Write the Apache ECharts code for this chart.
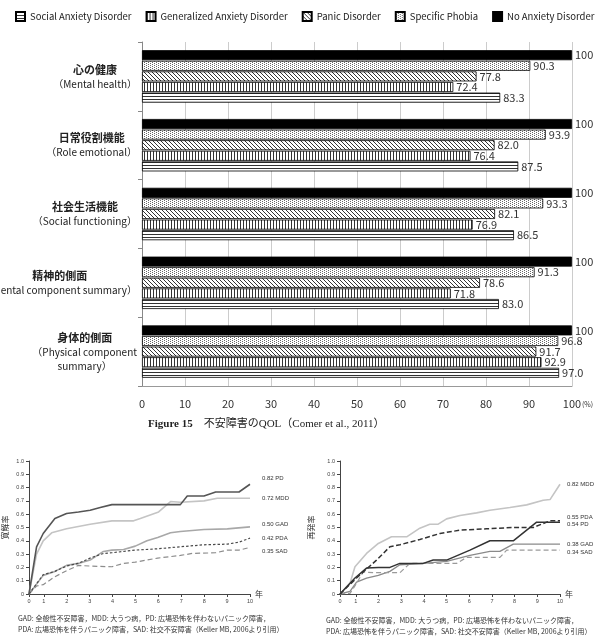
<!DOCTYPE html>
<html>
<head>
<meta charset="utf-8">
<script src="https://cdn.jsdelivr.net/npm/echarts@6/dist/echarts.min.js"></script>
<style>
  html, body { margin: 0; background: #fff; }
  #main { width: 596px; height: 638px; }
</style>
</head>
<body>
<div id="main"></div>
<script>
// ---- QOL bar chart (Figure 15) ----
const qolCategories = [
  ["心の健康", "（Mental health）"],
  ["日常役割機能", "（Role emotional）"],
  ["社会生活機能", "（Social functioning）"],
  ["精神的側面", "（Mental component summary）"],
  ["身体的側面", "（Physical component", "summary）"],
];
const barNames = ["Social Anxiety Disorder", "Generalized Anxiety Disorder", "Panic Disorder", "Specific Phobia", "No Anxiety Disorder"];
const socialAnxiety = [83.3, 87.5, 86.5, 83.0, 97.0];
const generalizedAnxiety = [72.4, 76.4, 76.9, 71.8, 92.9];
const panicDisorder = [77.8, 82.0, 82.1, 78.6, 91.7];
const specificPhobia = [90.3, 93.9, 93.3, 91.3, 96.8];
const noAnxiety = [100, 100, 100, 100, 100];
const qolTicks = [0, 10, 20, 30, 40, 50, 60, 70, 80, 90, 100];

// ---- remission (left) / recurrence (right) ----
const yearTicks = [1, 2, 3, 4, 5, 6, 7, 8, 9, 10];
const remXMin = 0.35;
const recXMin = 0.3;
const remPD = [[0.35, 0], [0.68, 0.355], [0.97, 0.455], [1.48, 0.567], [1.99, 0.605], [2.51, 0.617], [3.02, 0.63], [3.46, 0.65], [3.97, 0.672], [6.96, 0.672], [7.26, 0.737], [7.99, 0.737], [8.5, 0.767], [9.52, 0.767], [10, 0.825]];
const remMDD = [[0.35, 0], [0.68, 0.3], [0.97, 0.4], [1.34, 0.46], [1.99, 0.49], [3.02, 0.525], [3.97, 0.55], [4.92, 0.55], [5.21, 0.567], [6.01, 0.617], [6.53, 0.695], [6.96, 0.69], [7.99, 0.7], [8.57, 0.72], [10, 0.72]];
const remGAD = [[0.35, 0], [0.97, 0.14], [1.48, 0.17], [1.99, 0.215], [2.5, 0.23], [3.02, 0.255], [3.6, 0.32], [3.97, 0.33], [4.48, 0.335], [4.99, 0.36], [5.5, 0.4], [5.97, 0.425], [6.53, 0.46], [6.96, 0.47], [7.99, 0.485], [9.01, 0.49], [10, 0.505]];
const remPDA = [[0.35, 0], [0.97, 0.145], [1.48, 0.17], [1.99, 0.21], [2.5, 0.23], [3.02, 0.27], [3.6, 0.305], [3.97, 0.31], [4.99, 0.33], [5.97, 0.34], [6.96, 0.355], [7.99, 0.37], [9.01, 0.375], [9.52, 0.39], [10, 0.42]];
const remSAD = [[0.35, 0], [0.68, 0.06], [0.97, 0.07], [1.48, 0.13], [1.99, 0.175], [2.5, 0.215], [3.02, 0.21], [3.97, 0.205], [4.48, 0.23], [4.99, 0.24], [5.97, 0.27], [6.96, 0.29], [7.48, 0.305], [8.5, 0.31], [9.01, 0.33], [9.52, 0.33], [10, 0.35]];
const remLabels = ["0.82 PD", "0.72 MDD", "0.50 GAD", "0.42 PDA", "0.35 SAD"];

const recMDD = [[0.3, 0], [0.74, 0.08], [0.96, 0.205], [1.47, 0.305], [1.99, 0.38], [2.57, 0.43], [3.24, 0.43], [3.82, 0.495], [4.26, 0.525], [4.63, 0.525], [5, 0.565], [5.59, 0.59], [6.32, 0.61], [6.91, 0.63], [7.79, 0.65], [8.53, 0.67], [9.26, 0.705], [9.56, 0.71], [10, 0.825]];
const recPDA = [[0.3, 0], [1.03, 0.12], [1.91, 0.255], [2.5, 0.355], [2.94, 0.37], [3.82, 0.41], [4.71, 0.455], [5.59, 0.48], [6.76, 0.49], [7.94, 0.5], [8.82, 0.5], [9.56, 0.55], [10, 0.55]];
const recPD = [[0.3, 0], [0.96, 0.12], [1.47, 0.195], [1.99, 0.2], [2.5, 0.2], [2.94, 0.23], [3.97, 0.23], [4.41, 0.255], [5, 0.255], [6.03, 0.33], [6.91, 0.4], [7.94, 0.4], [8.97, 0.54], [10, 0.54]];
const recGAD = [[0.3, 0], [0.74, 0.02], [1.03, 0.09], [1.47, 0.12], [1.99, 0.14], [2.5, 0.17], [2.94, 0.22], [3.97, 0.23], [5, 0.245], [6.03, 0.29], [6.91, 0.32], [7.35, 0.32], [7.94, 0.375], [10, 0.375]];
const recSAD = [[0.3, 0], [0.74, 0.005], [1.03, 0.08], [1.32, 0.165], [1.91, 0.16], [2.94, 0.16], [3.38, 0.23], [5.44, 0.23], [5.88, 0.275], [7.35, 0.275], [7.65, 0.33], [10, 0.33]];
const recLabels = ["0.82 MDD", "0.55 PDA", "0.54 PD", "0.38 GAD", "0.34 SAD"];

const noteText = "GAD: 全般性不安障害，MDD: 大うつ病，PD: 広場恐怖を伴わないパニック障害，\nPDA: 広場恐怖を伴うパニック障害，SAD: 社交不安障害（Keller MB, 2006より引用）";

const JP = '"Noto Sans CJK JP", "Noto Sans", sans-serif';
const SANS = '"Liberation Sans", Arial, sans-serif';

// small canvas fills for the black & white bar patterns
function pattern(w, h, draw) {
  const c = document.createElement("canvas");
  c.width = w; c.height = h;
  const g = c.getContext("2d");
  g.fillStyle = "#fff";
  g.fillRect(0, 0, w, h);
  g.fillStyle = "#333";
  draw(g);
  return { image: c, repeat: "repeat" };
}
const fills = [
  pattern(1, 3, g => g.fillRect(0, 0, 1, 1)),               // horizontal lines
  pattern(3, 1, g => g.fillRect(0, 0, 1, 1)),               // vertical lines
  pattern(4, 4, g => { for (let i = 0; i < 4; i++) g.fillRect(i, i, 1, 1); }), // diagonal
  pattern(4, 2, g => { g.fillStyle = "#666"; g.fillRect(0, 0, 1, 1); g.fillRect(2, 1, 1, 1); }), // dots
  "#000",
];

const barValues = [socialAnxiety, generalizedAnxiety, panicDisorder, specificPhobia, noAnxiety];
// categories drawn bottom-to-top on the y axis
const yCats = qolCategories.slice().reverse();

// series added in reverse so "No Anxiety" sits on top of each group
const barSeries = barNames.map((name, i) => ({
  type: "bar",
  name: name,
  xAxisIndex: 0,
  yAxisIndex: 0,
  data: barValues[i].slice().reverse(),
  barWidth: 10,
  barGap: "6%",
  itemStyle: { color: fills[i], borderColor: "#000", borderWidth: 0.8 },
  label: {
    show: true,
    position: "right",
    distance: 3,
    fontSize: 11,
    fontFamily: JP,
    color: "#333",
    formatter: p => (p.value === 100 ? "100" : p.value.toFixed(1)),
  },
})).reverse();

function lineSeries(idx, data, color, width, type, label, dist, dy) {
  return {
    type: "line",
    xAxisIndex: idx,
    yAxisIndex: idx,
    data: data,
    symbol: "none",
    lineStyle: { color: color, width: width, type: type },
    endLabel: {
      show: true,
      formatter: label,
      fontSize: 6,
      fontFamily: SANS,
      color: "#333",
      distance: dist,
      offset: [0, dy],
    },
    silent: true,
  };
}

function yearAxis(idx, min) {
  const ticks = [min].concat(yearTicks);
  return {
    type: "value",
    gridIndex: idx,
    min: min,
    max: 10,
    name: "年",
    nameLocation: "end",
    nameGap: 5,
    nameTextStyle: { fontSize: 8, fontFamily: JP, color: "#333", padding: [6, 0, 0, 0] },
    axisLine: { lineStyle: { color: "#444", width: 1 } },
    axisTick: { customValues: ticks, length: 3, lineStyle: { color: "#444" } },
    axisLabel: {
      customValues: ticks,
      formatter: v => (v < 1 ? "0" : String(v)),
      fontSize: 5.5,
      fontFamily: SANS,
      color: "#444",
      margin: 4,
    },
    splitLine: { show: false },
  };
}

function rateAxis(idx, name, gap) {
  return {
    type: "value",
    gridIndex: idx,
    min: 0,
    max: 1,
    interval: 0.1,
    name: name,
    nameLocation: "middle",
    nameRotate: 90,
    nameGap: gap,
    nameTextStyle: { fontSize: 8, fontFamily: JP, color: "#333" },
    axisLine: { show: true, lineStyle: { color: "#444", width: 1 } },
    axisTick: { show: true, length: 3, lineStyle: { color: "#444" } },
    axisLabel: {
      formatter: v => (v === 0 ? "0" : v.toFixed(1)),
      fontSize: 5.5,
      fontFamily: SANS,
      color: "#444",
      margin: 5,
    },
    splitLine: { show: false },
  };
}

const chart = echarts.init(document.getElementById("main"), null, { renderer: "canvas" });
chart.setOption({
  backgroundColor: "#fff",
  animation: false,
  title: [
    {
      text: "{b|Figure 15}　不安障害のQOL（Comer et al., 2011）",
      left: 143,
      top: 414,
      textStyle: {
        fontSize: 11,
        fontWeight: "normal",
        color: "#222",
        fontFamily: '"Liberation Serif", "Noto Sans CJK JP", serif',
        rich: { b: { fontSize: 11, fontWeight: "bold", fontFamily: '"Liberation Serif", serif', color: "#222" } },
      },
    },
    {
      text: "(%)",
      left: 582,
      top: 401,
      padding: 0,
      textStyle: { fontSize: 7, fontWeight: "normal", color: "#333", fontFamily: JP },
    },
    {
      text: noteText,
      left: 18,
      top: 613,
      padding: 0,
      textStyle: { fontSize: 7, lineHeight: 11, fontWeight: "normal", color: "#333", fontFamily: JP },
    },
    {
      text: noteText,
      left: 326,
      top: 615,
      padding: 0,
      textStyle: { fontSize: 7, lineHeight: 11, fontWeight: "normal", color: "#333", fontFamily: JP },
    },
  ],
  legend: {
    data: barNames,
    top: 11,
    left: 15,
    width: 600,
    padding: 0,
    itemWidth: 9,
    itemHeight: 9,
    itemGap: 14,
    icon: "rect",
    textStyle: { fontSize: 9.5, color: "#222", fontFamily: JP },
  },
  grid: [
    { left: 142, right: 24, top: 42, bottom: 252, outerBoundsMode: "none" },
    { left: 29, right: 346, top: 461, bottom: 44, outerBoundsMode: "none" },
    { left: 340, right: 36, top: 461, bottom: 44, outerBoundsMode: "none" },
  ],
  xAxis: [
    {
      type: "value",
      gridIndex: 0,
      min: 0,
      max: 100,
      interval: 10,
      axisLine: { show: true, lineStyle: { color: "#999" } },
      axisTick: { show: false },
      axisLabel: {
        customValues: qolTicks,
        fontSize: 11,
        fontFamily: JP,
        color: "#333",
        margin: 12,
      },
      splitLine: { show: true, lineStyle: { color: "#ccc", width: 1 } },
    },
    yearAxis(1, remXMin),
    yearAxis(2, recXMin),
  ],
  yAxis: [
    {
      type: "category",
      gridIndex: 0,
      data: yCats.map(c => c.join("\n")),
      axisLine: { show: true, lineStyle: { color: "#888" } },
      axisTick: { show: true, length: 4, lineStyle: { color: "#888" } },
      axisLabel: {
        margin: 5,
        align: "right",
        formatter: (v, i) => {
          const c = yCats[i];
          return ["{a|" + c[0] + "}"].concat(c.slice(1).map(s => "{b|" + s + "}")).join("\n");
        },
        rich: {
          a: { fontSize: 11, fontWeight: "bold", fontFamily: JP, color: "#222", align: "center", lineHeight: 15 },
          b: { fontSize: 10, fontFamily: JP, color: "#222", align: "center", lineHeight: 14 },
        },
      },
      splitLine: { show: false },
    },
    rateAxis(1, "寛解率", 20),
    rateAxis(2, "再発率", 25),
  ],
  series: barSeries.concat([
    lineSeries(1, remMDD, "#c4c4c4", 1.6, "solid", remLabels[1], 12, 0),
    lineSeries(1, remGAD, "#a8a8a8", 1.6, "solid", remLabels[2], 12, -2),
    lineSeries(1, remSAD, "#8c8c8c", 1.2, [5, 3], remLabels[4], 12, 4),
    lineSeries(1, remPDA, "#4a4a4a", 1.2, [2.5, 2], remLabels[3], 12, 0),
    lineSeries(1, remPD, "#555", 1.6, "solid", remLabels[0], 12, -6),
    lineSeries(2, recMDD, "#c4c4c4", 1.6, "solid", recLabels[0], 7, 0),
    lineSeries(2, recGAD, "#8a8a8a", 1.3, "solid", recLabels[3], 7, 0),
    lineSeries(2, recSAD, "#9a9a9a", 1.2, [5, 3], recLabels[4], 7, 2),
    lineSeries(2, recPD, "#333", 1.5, "solid", recLabels[2], 7, 2),
    lineSeries(2, recPDA, "#333", 1.5, [5, 2.5], recLabels[1], 7, -4),
  ]),
});
</script>
</body>
</html>
